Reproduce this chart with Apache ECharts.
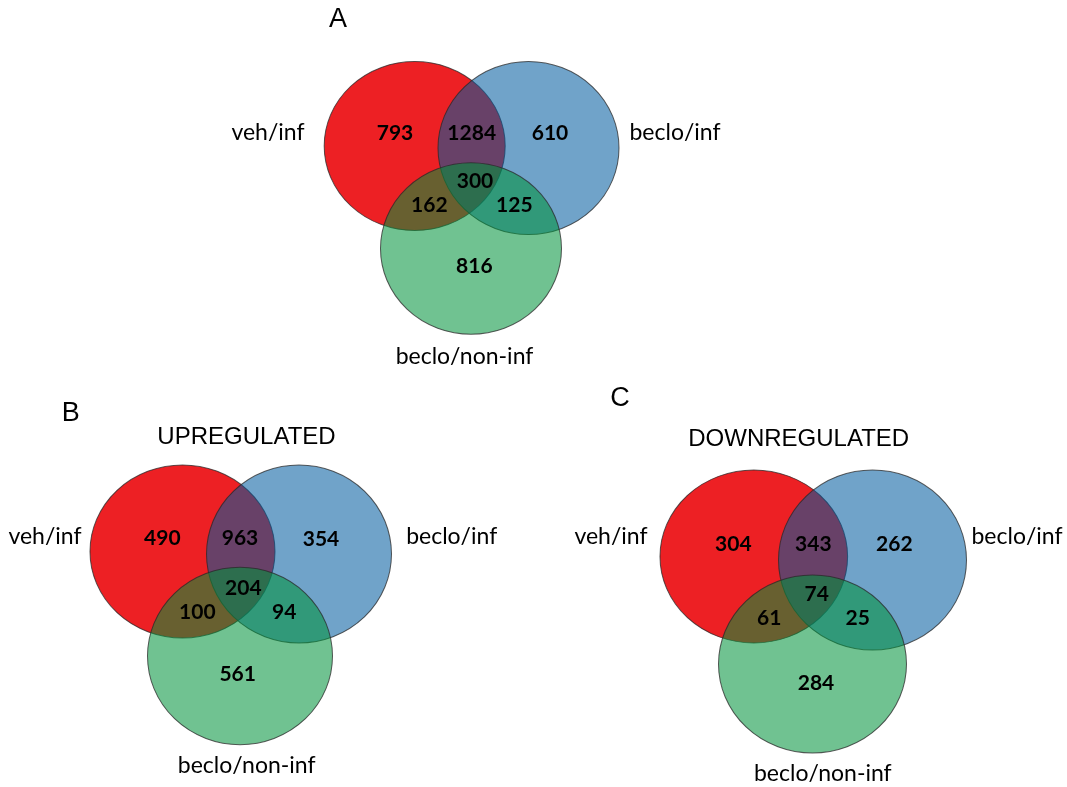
<!DOCTYPE html>
<html>
<head>
<meta charset="utf-8">
<script src="https://cdn.jsdelivr.net/npm/echarts@6/dist/echarts.min.js"></script>
<style>
html,body{margin:0;padding:0;background:#fff;}
#chart{width:1067px;height:787px;}
</style>
</head>
<body>
<div id="chart"></div>
<script>
// ---------- DATA ----------
const panelLetters = ['A', 'B', 'C'];
const panelTitles = ['', 'UPREGULATED', 'DOWNREGULATED'];
const setNames = ['veh/inf', 'beclo/inf', 'beclo/non-inf'];
// region order: vehOnly, veh∩beclo, becloOnly, all three, veh∩nonInf, beclo∩nonInf, nonInfOnly
const regionNames = ['veh/inf only', 'veh/inf & beclo/inf', 'beclo/inf only', 'all three', 'veh/inf & beclo/non-inf', 'beclo/inf & beclo/non-inf', 'beclo/non-inf only'];
const countsA = [793, 1284, 610, 300, 162, 125, 816];
const countsB = [490, 963, 354, 204, 100, 94, 561];
const countsC = [304, 343, 262, 74, 61, 25, 284];
const allCounts = [countsA, countsB, countsC];

// ---------- LAYOUT (geometry, pixel space) ----------
const layout = [
  { // A
    circles: [[414.7, 146, 90.5, 84.5], [528.5, 148, 90.5, 86.5], [471, 248.5, 90.5, 85.7]],
    regions: [[395, 133], [471.7, 133], [550, 133], [475, 181], [429.3, 205], [514.3, 205], [474.3, 266.7]],
    setLabels: [[268, 133], [675, 133], [464.5, 356.7]],
    letter: [338, 20], title: [471, 20]
  },
  { // B
    circles: [[182.5, 551.5, 92.5, 86.5], [299, 554, 92.5, 89], [240, 656, 92.5, 88.7]],
    regions: [[162.3, 538.3], [240, 538.3], [321, 539.3], [243.3, 588.3], [197.3, 612.7], [284.3, 612.7], [237.7, 674.3]],
    setLabels: [[45, 536.7], [451.7, 536.7], [246.7, 766]],
    letter: [70.7, 414], title: [246.5, 437]
  },
  { // C
    circles: [[753.8, 556.5, 93.8, 86.5], [872.5, 560, 94, 90], [812.5, 664, 94, 89]],
    regions: [[733.3, 544], [813.3, 544], [894.3, 544], [816.7, 594], [769.3, 618.7], [857.7, 618.7], [816, 683.3]],
    setLabels: [[611, 536.7], [1017, 536.7], [822.8, 773.3]],
    letter: [620, 399], title: [798.7, 439.3]
  }
];

const circleColors = ['rgb(237,32,36)', 'rgba(0,91,159,0.56)', 'rgba(0,146,59,0.56)'];
const strokeColor = 'rgba(40,40,40,0.75)';
const labelFont = 'Lato, "Open Sans", sans-serif';
const titleFont = '"Liberation Sans", Arial, sans-serif';

// ---------- BUILD ----------
const series = [];
layout.forEach((L, p) => {
  // circles
  series.push({
    type: 'scatter', silent: true, z: 2,
    data: L.circles.map((c, i) => ({
      name: setNames[i],
      value: [c[0], c[1]],
      symbolSize: [c[2] * 2, c[3] * 2],
      itemStyle: { color: circleColors[i], borderColor: strokeColor, borderWidth: 1, opacity: 1 }
    })),
    symbol: 'circle'
  });
  // region counts
  series.push({
    type: 'scatter', silent: true, z: 5,
    symbolSize: 1, itemStyle: { color: 'transparent', opacity: 1 },
    data: L.regions.map((r, i) => ({ name: regionNames[i], value: [r[0], r[1], allCounts[p][i]] })),
    label: {
      show: true, position: 'inside', formatter: (d) => String(d.value[2]),
      color: '#000', fontFamily: labelFont, fontWeight: 'bold', fontSize: 21
    }
  });
  // set labels
  series.push({
    type: 'scatter', silent: true, z: 5,
    symbolSize: 1, itemStyle: { color: 'transparent', opacity: 1 },
    data: L.setLabels.map((s, i) => ({ value: [s[0], s[1]], name: setNames[i] })),
    label: {
      show: true, position: 'inside', formatter: (d) => d.name,
      color: '#000', fontFamily: labelFont, fontSize: 23
    }
  });
  // letter
  series.push({
    type: 'scatter', silent: true, z: 5,
    symbolSize: 1, itemStyle: { color: 'transparent', opacity: 1 },
    data: [{ value: [L.letter[0], L.letter[1]], name: panelLetters[p] }],
    label: {
      show: true, position: 'inside', formatter: (d) => d.name,
      color: '#000', fontFamily: titleFont, fontSize: 27
    }
  });
  // title
  if (panelTitles[p]) {
    series.push({
      type: 'scatter', silent: true, z: 5,
      symbolSize: 1, itemStyle: { color: 'transparent', opacity: 1 },
      data: [{ value: [L.title[0], L.title[1]], name: panelTitles[p] }],
      label: {
        show: true, position: 'inside', formatter: (d) => d.name,
        color: '#000', fontFamily: titleFont, fontSize: 24
      }
    });
  }
});

const chart = echarts.init(document.getElementById('chart'), null, { renderer: 'canvas' });
chart.setOption({
  animation: false,
  backgroundColor: '#fff',
  grid: { left: 0, right: 0, top: 0, bottom: 0 },
  xAxis: { type: 'value', min: 0, max: 1067, show: false },
  yAxis: { type: 'value', min: 0, max: 787, inverse: true, show: false },
  series: series
});
</script>
</body>
</html>
